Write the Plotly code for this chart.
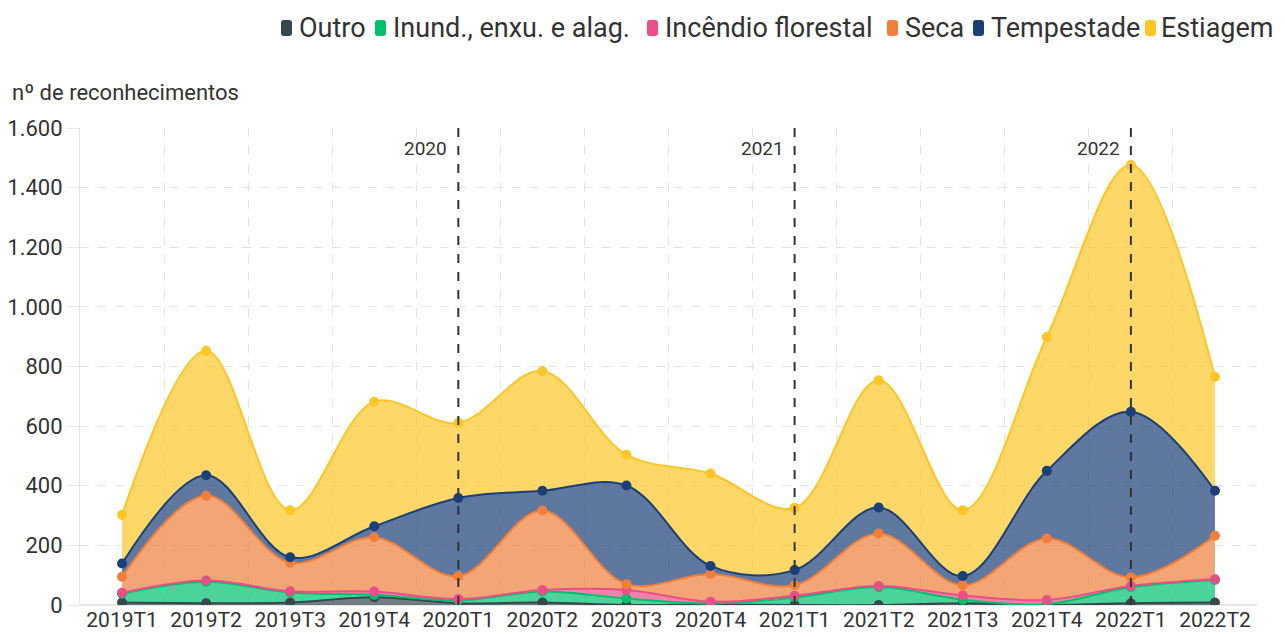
import plotly.graph_objects as go

quarters = ["2019T1", "2019T2", "2019T3", "2019T4", "2020T1", "2020T2", "2020T3",
            "2020T4", "2021T1", "2021T2", "2021T3", "2021T4", "2022T1", "2022T2"]

outro = [8, 6, 8, 26, 6, 8, 0, 2, 0, 0, 6, 0, 6, 8]
inund = [30, 72, 34, 8, 9, 37, 22, 3, 25, 60, 12, 3, 54, 76]
incendio = [3, 4, 4, 11, 5, 5, 28, 6, 6, 4, 14, 14, 4, 2]
seca = [54, 285, 96, 182, 77, 267, 20, 93, 35, 176, 34, 206, 29, 146]
tempestade = [44, 68, 18, 37, 262, 66, 331, 27, 51, 87, 31, 227, 555, 151]
estiagem = [163, 418, 158, 418, 252, 402, 103, 310, 209, 427, 221, 449, 828, 382]

year_marks = ["2020T1", "2021T1", "2022T1"]
year_labels = ["2020", "2021", "2022"]
y_ticks = [0, 200, 400, 600, 800, 1000, 1200, 1400, 1600]

series = [
    ("Outro", outro, (55, 71, 79)),
    ("Inund., enxu. e alag.", inund, (0, 192, 110)),
    ("Incêndio florestal", incendio, (233, 78, 136)),
    ("Seca", seca, (240, 127, 58)),
    ("Tempestade", tempestade, (27, 63, 119)),
    ("Estiagem", estiagem, (252, 198, 38)),
]

FONT = "Roboto, sans-serif"
# page body has an 8px margin: figure is placed at (8, 8)
OFF = 8
W, H = 1285 - OFF, 637 - OFF
# plot area in page pixels: x 80..1257, y 128..605
ML, MR, MT, MB = 80 - OFF, 1285 - OFF - (1257 - OFF), 128 - OFF, H - (605 - OFF)
PW, PH = W - ML - MR, H - MT - MB


def px(x):
    return (x - OFF - ML) / PW


def py(y):
    return (H - MB - (y - OFF)) / PH


fig = go.Figure()
for name, vals, (r, g, b) in series:
    col = f"rgb({r},{g},{b})"
    fig.add_trace(go.Scatter(
        x=quarters, y=vals, name=name, stackgroup="one",
        mode="lines+markers",
        line=dict(color=col, width=2, shape="spline", smoothing=1),
        marker=dict(color=col, size=10),
        fillcolor=f"rgba({r},{g},{b},0.7)",
        showlegend=False,
    ))

# legend drawn as swatches + text (left pixel edge of each swatch, page pixels)
legend_left = [281, 375, 647, 887, 973, 1145]
sw_w, sw_h, rad = 11, 16, 3
cy = 28
n_items = len(series)
for i, ((name, _, (r, g, b)), lx) in enumerate(zip(series, legend_left)):
    x0, x1 = lx, lx + sw_w
    y0, y1 = cy - sw_h / 2, cy + sw_h / 2
    path = (f"M {px(x0 + rad)} {py(y0)} L {px(x1 - rad)} {py(y0)} "
            f"Q {px(x1)} {py(y0)} {px(x1)} {py(y0 + rad)} L {px(x1)} {py(y1 - rad)} "
            f"Q {px(x1)} {py(y1)} {px(x1 - rad)} {py(y1)} L {px(x0 + rad)} {py(y1)} "
            f"Q {px(x0)} {py(y1)} {px(x0)} {py(y1 - rad)} L {px(x0)} {py(y0 + rad)} "
            f"Q {px(x0)} {py(y0)} {px(x0 + rad)} {py(y0)} Z")
    fig.add_shape(type="path", xref="paper", yref="paper", path=path,
                  fillcolor=f"rgb({r},{g},{b})", line=dict(width=0))
    last = i == n_items - 1
    fig.add_annotation(x=px(1276) if last else px(x1 + 5), y=py(cy),
                       xref="paper", yref="paper", text=name,
                       showarrow=False, xanchor="right" if last else "left",
                       yanchor="middle",
                       font=dict(size=27, color="#333333", family=FONT))

for q, lab in zip(year_marks, year_labels):
    fig.add_shape(type="line", xref="x", yref="paper", x0=q, x1=q, y0=0, y1=1,
                  line=dict(color="#333333", width=2, dash="dash"))
    fig.add_annotation(x=q, y=1, xref="x", yref="paper", text=lab, showarrow=False,
                       xanchor="right", yanchor="top", xshift=-9, yshift=-7,
                       font=dict(size=19, color="#333333", family=FONT))

fig.add_annotation(x=px(10), y=py(93), xref="paper", yref="paper",
                   text="nº de reconhecimentos", showarrow=False,
                   xanchor="left", yanchor="middle",
                   font=dict(size=22, color="#333333", family=FONT))

fig.update_layout(
    width=W, height=H,
    margin=dict(l=ML, r=MR, t=MT, b=MB, autoexpand=False),
    paper_bgcolor="white", plot_bgcolor="white",
    font=dict(family=FONT, color="#333333"),
    separators=",.",
    showlegend=False,
    xaxis=dict(type="category", range=[-0.5, 13.5], tickson="boundaries",
               showgrid=True, gridcolor="#e3e3e3", griddash="dash", gridwidth=1,
               ticks="", showline=False, zeroline=False, tickangle=0,
               tickfont=dict(size=21, color="#333333", family=FONT)),
    yaxis=dict(range=[0, 1600], tickvals=y_ticks,
               tickformat=",d", showgrid=True, gridcolor="#e3e3e3", griddash="dash",
               ticks="outside", ticklen=12, tickcolor="#e6e6e6",
               showline=True, linecolor="#e6e6e6", linewidth=1,
               zeroline=True, zerolinecolor="#e6e6e6", zerolinewidth=2,
               tickfont=dict(size=22, color="#333333", family=FONT)),
)

fig.write_html("out.html")
